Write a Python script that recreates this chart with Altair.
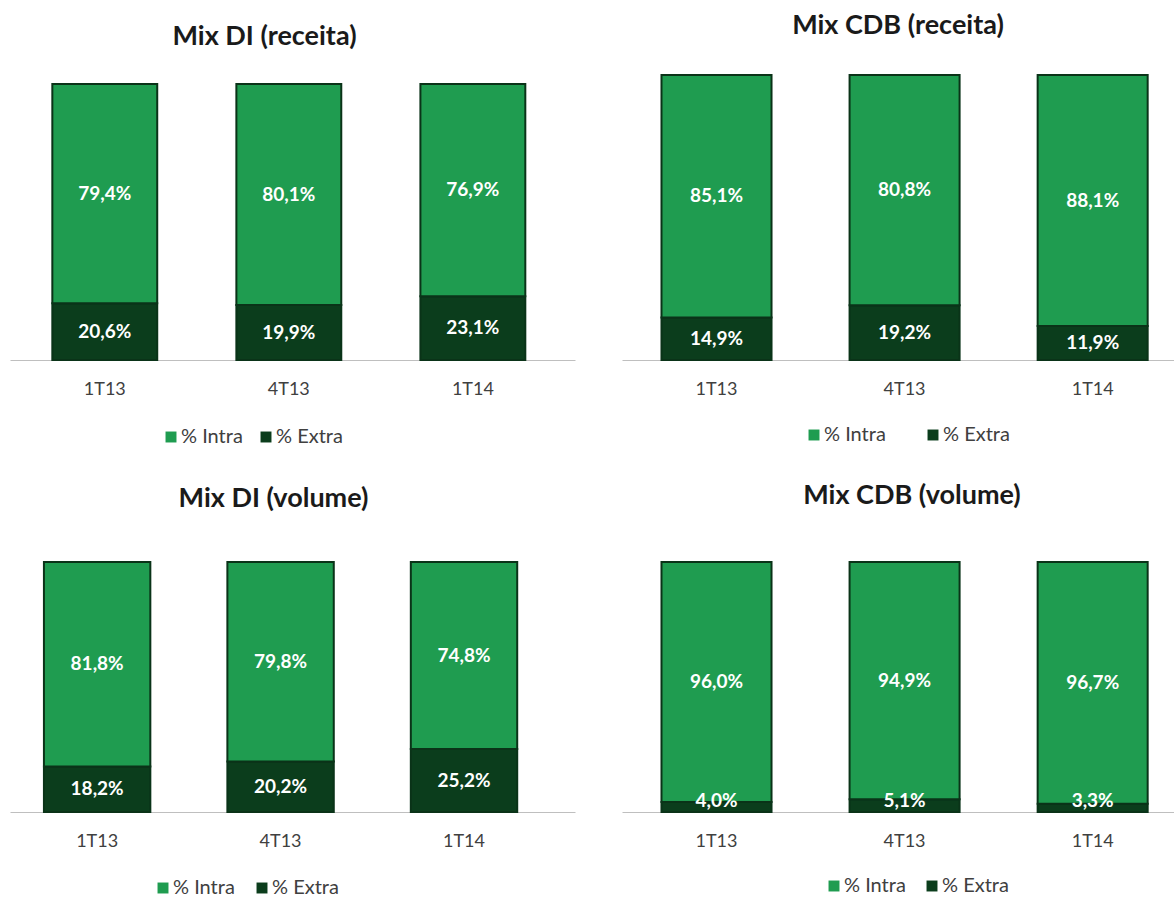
import altair as alt
import pandas as pd

periods = ["1T13", "4T13", "1T14"]
series = ["% Intra", "% Extra"]

di_receita_intra = [79.4, 80.1, 76.9]
di_receita_extra = [20.6, 19.9, 23.1]
cdb_receita_intra = [85.1, 80.8, 88.1]
cdb_receita_extra = [14.9, 19.2, 11.9]
di_volume_intra = [81.8, 79.8, 74.8]
di_volume_extra = [18.2, 20.2, 25.2]
cdb_volume_intra = [96.0, 94.9, 96.7]
cdb_volume_extra = [4.0, 5.1, 3.3]

LIGHT = "#1f9c50"
DARK = "#0b3d1c"
EDGE = "#0a3318"
FONT = "Lato"


def panel(title, intra, extra, width, height, y_max, p_in, p_out, align,
          legend_x, legend_y, col_pad, title_offset, title_dx):
    rows = []
    for per, a, b in zip(periods, intra, extra):
        rows.append({"period": per, "serie": "% Extra", "value": b, "order": 0})
        rows.append({"period": per, "serie": "% Intra", "value": a, "order": 1})
    df = pd.DataFrame(rows)
    base = alt.Chart(df).transform_stack(
        stack="value", groupby=["period"],
        sort=[alt.SortField("order", order="ascending")], as_=["y0", "y1"]
    ).transform_calculate(
        mid="max((datum.y0 + datum.y1) / 2, 4.6)",
        label="replace(format(datum.value, '.1f'), '.', ',') + '%'"
    )
    x = alt.X(
        "period:N", sort=periods, title=None,
        scale=alt.Scale(paddingInner=p_in, paddingOuter=p_out, align=align),
        axis=alt.Axis(labelAngle=0, ticks=False, domainColor="#bfbfbf",
                      domainWidth=1, labelColor="#404040", labelFontSize=18,
                      labelFont=FONT, labelPadding=20, grid=False),
    )
    y_scale = alt.Scale(domain=[0, y_max])
    bars = base.mark_bar(stroke=EDGE, strokeWidth=2).encode(
        x=x,
        y=alt.Y("y0:Q", scale=y_scale, axis=None),
        y2="y1:Q",
        color=alt.Color(
            "serie:N",
            scale=alt.Scale(domain=series, range=[LIGHT, DARK]),
            legend=alt.Legend(
                title=None, orient="none", legendX=legend_x, legendY=legend_y,
                direction="horizontal", symbolType="square", symbolSize=120,
                symbolStrokeWidth=0, labelFontSize=20, labelFont=FONT,
                labelColor="#404040", columnPadding=col_pad, labelOffset=0,
            ),
        ),
    )
    labels = base.mark_text(color="white", fontWeight="bold", fontSize=19,
                            font=FONT).encode(
        x=x,
        y=alt.Y("mid:Q", scale=y_scale, axis=None),
        text="label:N",
    )
    return alt.layer(bars, labels).properties(
        width=width, height=height,
        title=alt.TitleParams(title, fontSize=27, font=FONT, fontWeight="bold",
                              color="#1a1a1a", offset=title_offset, dx=title_dx),
    )


p1 = panel("Mix DI (receita)", di_receita_intra, di_receita_extra,
           565, 285, 103.3, 0.43, 0.25, 0.46, 151, 352, 13, 24, -28)
p2 = panel("Mix CDB (receita)", cdb_receita_intra, cdb_receita_extra,
           552, 285, 100, 0.415, 0.175, 0.6, 182, 350, 37, 34, 0)
p3 = panel("Mix DI (volume)", di_volume_intra, di_volume_extra,
           565, 250, 100, 0.42, 0.25, 0.37, 143, 316, 17, 48, -19)
p4 = panel("Mix CDB (volume)", cdb_volume_intra, cdb_volume_extra,
           552, 250, 100, 0.415, 0.175, 0.6, 202, 314, 16, 51, 14)


def indep(c):
    return c.resolve_scale(color="independent", x="independent", y="independent").resolve_legend(color="independent")


top_row = indep(alt.hconcat(p1, p2, spacing=47))
bottom_row = indep(alt.hconcat(p3, p4, spacing=47))
chart = indep(alt.vconcat(top_row, bottom_row, spacing=35)).properties(
    padding={"left": 10, "top": 12, "right": 0, "bottom": 0}
).configure_view(stroke=None)

chart.save("out.html", embed_options={"renderer": "svg", "actions": False})
